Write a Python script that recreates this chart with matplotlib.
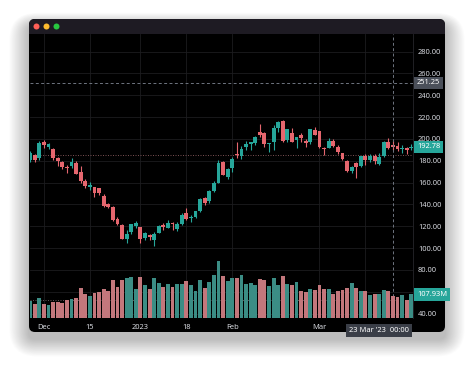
import matplotlib
matplotlib.use("Agg")
import matplotlib.pyplot as plt
from matplotlib.patches import FancyBboxPatch, Rectangle, Circle
from matplotlib.transforms import blended_transform_factory

# daily bars, 28 Nov 2022 .. 29 Mar 2023 (trading days)
opens = [181, 185, 182.5, 197, 193, 191, 182.5, 179, 174, 175,
         178, 170, 161.5, 155.5, 156, 155, 148, 140.5, 138, 126.5,
         121, 108, 115, 120.5, 119, 109, 112, 107, 114, 121,
         118.5, 123, 117.5, 122, 132, 127.5, 128, 134, 146, 143,
         152.5, 160, 178.5, 165, 173, 186, 184, 193, 195, 196.5,
         206, 205, 195, 197, 210, 216, 199, 205.5, 199, 204,
         198, 197.5, 208.5, 207, 192, 192, 198, 193, 187, 180,
         171, 178, 175, 184.5, 181, 184, 177, 184.5, 197.5, 194.5,
         193.5, 190.5, 192, 191.3]
closes = [187, 180.5, 196, 194.7, 195, 182.5, 179.5, 174, 173, 179,
          168, 161, 157, 158, 150, 150, 138.5, 137.5, 126, 122.5,
          108, 113, 122, 123, 108, 113.5, 110, 113, 120, 119,
          123, 122.5, 122, 130.5, 127, 128.5, 133.5, 145, 141, 152,
          159.5, 178, 166.5, 172.5, 181.5, 185, 191, 195.5, 197, 202,
          204, 195, 196, 210, 215.5, 198, 209, 197.5, 201.5, 201,
          196.5, 209, 204, 193, 190.5, 198, 193.5, 188, 181.5, 171,
          174, 174, 184, 181, 184, 179.5, 183, 197.5, 192, 192.8,
          190.5, 192, 189.5, 192.78]
highs = [188.5, 186.4, 198.5, 199, 196.3, 191.3, 183.6, 179.4, 175.7, 182.5,
         179.3, 175.1, 162.9, 160.9, 156.3, 155.3, 149.5, 141.3, 138.8, 128.6,
         122, 116.3, 122.5, 124.5, 119, 114.6, 112.5, 114.4, 121, 122.8,
         125.9, 124.3, 123.5, 131.7, 137, 129.9, 134, 145.4, 146.5, 153,
         161.4, 180.7, 179.8, 173.1, 183.8, 196.8, 193.3, 198.2, 197.5, 203,
         214, 206.3, 196.5, 212.7, 216.4, 217.7, 209.5, 209.7, 201.9, 205.1,
         199.5, 209.4, 211.2, 207.2, 193, 200.5, 199.6, 194.2, 187.2, 180.7,
         175.5, 178.5, 184.4, 186.2, 185.8, 186.2, 186.8, 198, 200.7, 199.3,
         197.4, 194.5, 192.4, 195.3]
lows = [178.5, 178.8, 180.6, 191.8, 191.1, 180.6, 175.3, 172.2, 169.1, 173.4,
        167.5, 159.7, 155.3, 153.3, 146.9, 148.3, 137.5, 136.6, 124.5, 121,
        108, 104.6, 112.9, 118.6, 104.6, 107.5, 107.2, 101.8, 113.9, 116.9,
        118, 117, 115.6, 121.5, 125.9, 124.3, 127.2, 133.2, 139.1, 141.5,
        151.5, 159.3, 166.5, 162.9, 169.9, 182.6, 182, 189.9, 189.6, 194.3,
        201.9, 192.9, 187.6, 190.2, 206.1, 197.5, 197.5, 197.2, 191.8, 196.9,
        192.8, 195.7, 203.8, 191.5, 185.6, 191.9, 192.8, 186.1, 180.9, 169.4,
        168.4, 163.9, 173.8, 176.4, 178.9, 177.3, 176.3, 183.4, 190.5, 189.4,
        189, 187.5, 185.7, 189.4]
# volume, millions
volumes = [77.1, 66.3, 92.5, 64.8, 58.6, 74, 74, 69.4, 80.2, 87.9,
           89.4, 135.7, 111, 98.7, 112.6, 118.7, 131.1, 121.8, 175.8, 140.3,
           174.2, 183.5, 188.1, 134.1, 189.7, 151.1, 131.1, 182, 158.8, 141.9,
           155.7, 143.4, 155.7, 157.3, 168.1, 149.6, 123.4, 175.8, 138.8, 163.5,
           197.4, 260.6, 194.3, 169.6, 185, 185, 195.8, 157.3, 160.4, 152.7,
           178.9, 175.8, 146.5, 183.5, 151.1, 194.3, 154.2, 149.6, 165, 123.4,
           118.7, 134.1, 128, 151.1, 131.1, 131.1, 111, 123.4, 126.4, 138.8,
           161.9, 138.8, 123.4, 123.4, 104.9, 111, 108, 128, 123.4, 100.2,
           97.1, 103.3, 81.7, 107.93]

tick_bars = [3, 13, 24, 34, 44, 63]
tick_labels = ['Dec', '15', '2023', '18', 'Feb', 'Mar']
hidden_tick_bars = [73]          # grid line whose label sits under the crosshair box
price_ticks = list(range(40, 281, 20))
hidden_price_ticks = [60]        # label sits under the volume box

ref_price = 185.5                # faint dotted line across the price pane
ref_volume = 84.0                # faint dotted line across the volume pane

cross_bar = 79
cross_price = 251.25
cross_date = "23 Mar '23"
cross_time = '00:00'

UP, DOWN = '#26a69a', '#e5666e'
VOL_UP, VOL_DOWN = '#3b8d85', '#c3777c'
TXT = '#d6d8de'

W, H = 474, 371
fig = plt.figure(figsize=(W / 100, H / 100), dpi=100)
fig.patch.set_facecolor('white')
plt.rcParams['font.family'] = ['Noto Sans', 'DejaVu Sans']

# window frame, shadow, title bar
bg = fig.add_axes([0, 0, 1, 1])
bg.set_xlim(0, W)
bg.set_ylim(H, 0)
bg.axis('off')
wx, wy, ww, wh = 29, 19, 416, 313
for k in range(22, 0, -1):
    bg.add_patch(FancyBboxPatch((wx - k * 0.9, wy + 7 - k * 0.6), ww + k * 1.8, wh + k * 1.4,
                                boxstyle='round,pad=0,rounding_size=%g' % (6 + k),
                                fc='black', ec='none', alpha=0.013))
win = FancyBboxPatch((wx, wy), ww, wh, boxstyle='round,pad=0,rounding_size=6',
                     fc='#000000', ec='none')
bg.add_patch(win)
title = Rectangle((wx, wy), ww, 14.5, fc='#1e1b23', ec='none')
bg.add_patch(title)
title.set_clip_path(win)
for cx, col in [(36.5, '#ff5f57'), (46.5, '#febc2e'), (56.5, '#28c840')]:
    bg.add_patch(Circle((cx, 26.5), 3, fc=col, ec='none'))

# chart pane
left, right, top, bottom = 29.5, 413, 33.5, 318
ax = fig.add_axes([left / W, (H - bottom) / H, (right - left) / W, (bottom - top) / H])
ax.set_facecolor('black')
x = list(range(len(opens)))
spacing = 4.592
x0 = (left - 30.2) / spacing
ax.set_xlim(x0, x0 + (right - left) / spacing)
ax.set_ylim(35.96, 296.5)

vax = ax.twinx()
vax.set_ylim(0, max(volumes) / 0.2)
vax.bar(x, volumes, width=0.84,
        color=[VOL_UP if c >= o else VOL_DOWN for o, c in zip(opens, closes)], zorder=2)
vax.axhline(ref_volume, color='#6e6266', lw=0.6, ls=(0, (1.2, 1.8)), zorder=1)
vax.set_yticks([])
for s in vax.spines.values():
    s.set_visible(False)

cols = [UP if c >= o else DOWN for o, c in zip(opens, closes)]
ax.vlines(x, lows, highs, colors=cols, lw=0.8, zorder=3)
bodies = [max(abs(c - o), 0.9) for o, c in zip(opens, closes)]
ax.bar(x, bodies, bottom=[min(o, c) for o, c in zip(opens, closes)],
       width=0.84, color=cols, zorder=4)

ax.set_xticks(tick_bars)
ax.set_xticklabels(tick_labels)
ax.set_xticks(hidden_tick_bars, minor=True)
ax.set_yticks(price_ticks)
ax.set_yticklabels(['' if p in hidden_price_ticks else '%.2f' % p for p in price_ticks])
ax.yaxis.tick_right()
ax.tick_params(axis='both', which='both', length=0, labelsize=5.4, colors=TXT)
ax.tick_params(axis='y', pad=3.5)
ax.tick_params(axis='x', pad=4)
ax.grid(True, which='both', color='#1c1c1f', lw=0.6, zorder=0)
ax.set_axisbelow(True)
for name, s in ax.spines.items():
    s.set_visible(name == 'right')
ax.spines['right'].set_color('#26262a')
ax.spines['right'].set_linewidth(0.6)

# reference line, last price line and crosshair
ax.axhline(ref_price, color='#8c5b5f', lw=0.6, ls=(0, (1.2, 1.8)), zorder=2)
ax.plot([len(opens) - 0.5, len(opens) + 1], [closes[-1], closes[-1]],
        color=UP, lw=0.6, ls=(0, (1.5, 1.5)), zorder=2)
ax.axvline(cross_bar, color='#6f7580', lw=0.7, ls=(0, (3, 2.5)), zorder=6)
ax.axhline(cross_price, color='#6f7580', lw=0.7, ls=(0, (3, 2.5)), zorder=6)

blend = blended_transform_factory(ax.transAxes, ax.transData)
vblend = blended_transform_factory(ax.transAxes, vax.transData)
lx = 1 + 4 / (right - left)
ax.text(lx, closes[-1], '%.2f' % closes[-1], transform=blend, ha='left', va='center',
        fontsize=5.4, color='white', clip_on=False, zorder=10,
        bbox=dict(boxstyle='square,pad=0.35', fc=UP, ec='none'))
ax.text(lx, cross_price, '%.2f' % cross_price, transform=blend, ha='left', va='center',
        fontsize=5.4, color='white', clip_on=False, zorder=10,
        bbox=dict(boxstyle='square,pad=0.35', fc='#4b505a', ec='none'))
vax.text(lx, volumes[-1], '%.2fM' % volumes[-1], transform=vblend, ha='left', va='center',
         fontsize=5.4, color='white', clip_on=False, zorder=10,
         bbox=dict(boxstyle='square,pad=0.35', fc=UP, ec='none'))
ax.text(1 - 4 / (right - left), -0.03, cross_date + '  ' + cross_time, transform=ax.transAxes,
        ha='right', va='top', fontsize=5.4, color='white', clip_on=False, zorder=10,
        bbox=dict(boxstyle='square,pad=0.4', fc='#3a3e47', ec='none'))

fig.savefig('out.png', dpi=100, facecolor='white')
